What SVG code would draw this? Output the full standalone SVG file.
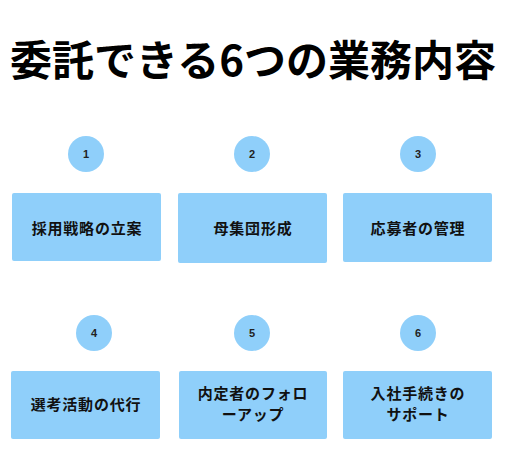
<svg xmlns="http://www.w3.org/2000/svg" width="516" height="463" viewBox="0 0 516 463">
<style>
.bg{fill:#ffffff}
.box{fill:#8FCFFA}
.num{fill:#8FCFFA}
.t{font-family:"Noto Sans CJK JP","Noto Sans",sans-serif;font-weight:bold;fill:#111111;text-anchor:middle}
.title{font-size:42px;fill:#000000}
.lbl{font-size:15px;letter-spacing:0.8px}
.n{font-family:"Liberation Sans","Noto Sans",sans-serif;font-size:11px;font-weight:bold;fill:#222222;text-anchor:middle}
</style>
<rect class="bg" x="0" y="0" width="516" height="463"/>
<text class="t title" x="253" y="76">委託できる6つの業務内容</text>
<g id="connectors"></g>
<g id="node1">
<circle class="num" cx="86" cy="154" r="18"/>
<text class="n" x="86" y="158">1</text>
<rect class="box" x="12" y="193" width="149" height="68" rx="2"/>
<text class="t lbl" x="87" y="234">採用戦略の立案</text>
</g>
<g id="node2">
<circle class="num" cx="252" cy="154" r="18"/>
<text class="n" x="252" y="158">2</text>
<rect class="box" x="178" y="193" width="149" height="70" rx="2"/>
<text class="t lbl" x="253" y="234">母集団形成</text>
</g>
<g id="node3">
<circle class="num" cx="418" cy="154" r="18"/>
<text class="n" x="418" y="158">3</text>
<rect class="box" x="343" y="193" width="149" height="69" rx="2"/>
<text class="t lbl" x="418" y="234">応募者の管理</text>
</g>
<g id="node4">
<circle class="num" cx="94" cy="333" r="18"/>
<text class="n" x="94" y="337">4</text>
<rect class="box" x="11" y="371" width="149" height="68" rx="2"/>
<text class="t lbl" x="86" y="410">選考活動の代行</text>
</g>
<g id="node5">
<circle class="num" cx="252" cy="333" r="18"/>
<text class="n" x="252" y="337">5</text>
<rect class="box" x="179" y="371" width="148" height="68" rx="2"/>
<text class="t lbl" x="253" y="399">内定者のフォロ</text>
<text class="t lbl" x="253" y="420">ーアップ</text>
</g>
<g id="node6">
<circle class="num" cx="418" cy="333" r="18"/>
<text class="n" x="418" y="337">6</text>
<rect class="box" x="343" y="371" width="149" height="68" rx="2"/>
<text class="t lbl" x="418" y="399">入社手続きの</text>
<text class="t lbl" x="418" y="420">サポート</text>
</g>
</svg>
